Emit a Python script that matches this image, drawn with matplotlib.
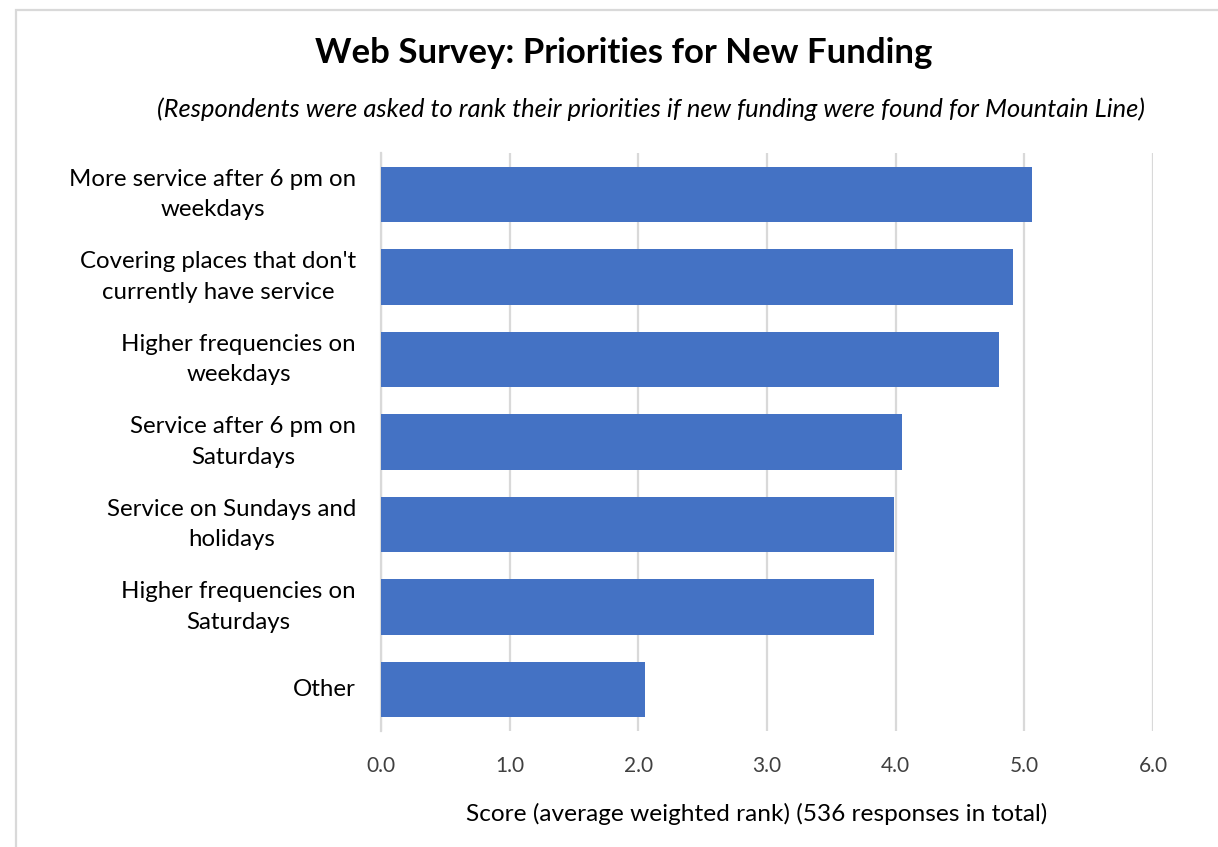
"""
Web survey: priorities for new funding (horizontal bar chart).
"""
import matplotlib
matplotlib.use("Agg")
from matplotlib import pyplot as plt
from matplotlib.patches import Rectangle
import numpy as np


CATEGORIES = [
    "More service after 6 pm on\nweekdays",
    "Covering places that don't\ncurrently have service",
    "Higher frequencies on\nweekdays",
    "Service after 6 pm on\nSaturdays",
    "Service on Sundays and\nholidays",
    "Higher frequencies on\nSaturdays",
    "Other",
]
SCORES = [5.06, 4.91, 4.80, 4.05, 3.99, 3.83, 2.05]
XTICKS = [0.0, 1.0, 2.0, 3.0, 4.0, 5.0, 6.0]

BAR_COLOR = "#4472C4"
GRID_COLOR = "#D9D9D9"
TEXT_COLOR = "#000000"
TICK_COLOR = "#404040"


if __name__ == "__main__":
    plt.rcParams["font.family"] = ["Lato", "DejaVu Sans"]
    fig = plt.figure(figsize=(12.18, 8.47), dpi=100)
    W, H = 1218, 847

    # plot area in pixels: x 381..1153, y 153..731
    ax = fig.add_axes([381 / W, 1 - 731 / H, (1153 - 381) / W, (731 - 153) / H])

    y = np.arange(len(CATEGORIES))
    ax.barh(y, SCORES, height=0.67, color=BAR_COLOR, zorder=3)
    ax.set_ylim(len(CATEGORIES) - 0.5, -0.5)
    ax.set_xlim(0, 6.0)

    ax.set_yticks(y)
    ax.set_yticklabels(CATEGORIES, fontsize=17.3, color=TEXT_COLOR,
                       ha="right", va="center", multialignment="center",
                       linespacing=1.55)
    ax.set_xticks(XTICKS)
    ax.set_xticklabels([f"{t:.1f}" for t in XTICKS], fontsize=15,
                       color=TICK_COLOR)
    ax.tick_params(axis="y", length=0, pad=18)
    ax.tick_params(axis="x", length=0, pad=18)

    ax.grid(axis="x", color=GRID_COLOR, linewidth=1.6, zorder=0)
    for side in ["top", "right", "bottom"]:
        ax.spines[side].set_visible(False)
    ax.spines["left"].set_color(GRID_COLOR)
    ax.spines["left"].set_linewidth(1.6)

    ax.set_xlabel("Score (average weighted rank) (536 responses in total)",
                  fontsize=17.6, color=TEXT_COLOR)
    ax.xaxis.set_label_coords((757 - 381) / (1153 - 381), -(814 - 731) / (731 - 153))
    ax.xaxis.label.set_va("center")

    fig.text(624 / W, 1 - 53 / H, "Web Survey: Priorities for New Funding",
             ha="center", va="center", fontsize=25, fontweight="bold",
             color=TEXT_COLOR)
    fig.text(651 / W, 1 - 109 / H,
             "(Respondents were asked to rank their priorities if new funding "
             "were found for Mountain Line)",
             ha="center", va="center", fontsize=18.4, style="italic",
             color=TEXT_COLOR)

    # outer chart border, cut off at right and bottom
    fig.patches.append(Rectangle((16 / W, -0.1), 1.2, 1 - 10 / H + 0.1,
                                 transform=fig.transFigure, fill=False,
                                 edgecolor=GRID_COLOR, linewidth=1.6))

    fig.savefig("out.png", dpi=100)
